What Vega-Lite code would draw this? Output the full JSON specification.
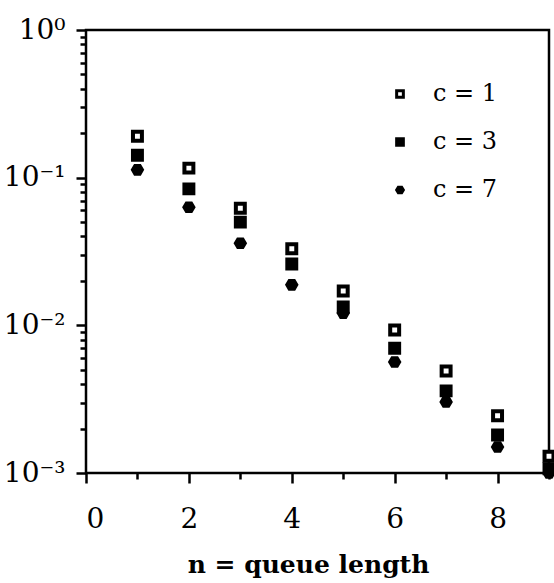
{
  "$schema": "https://vega.github.io/schema/vega-lite/v6.json",
  "width": 463,
  "height": 443,
  "autosize": "none",
  "padding": {"left": 86, "top": 30, "right": 5, "bottom": 110},
  "background": "white",
  "config": {
    "view": {"stroke": "black", "strokeWidth": 2.5},
    "font": "DejaVu Serif",
    "axis": {"domainColor": "black", "domainWidth": 2.5, "tickColor": "black", "tickWidth": 2.5, "grid": false, "labelColor": "black", "titleColor": "black", "labelFont": "DejaVu Serif", "titleFont": "DejaVu Serif"}
  },
  "data": {"values": [
    {"n": 1, "c": "c = 1", "p": 0.191}, {"n": 1, "c": "c = 3", "p": 0.142}, {"n": 1, "c": "c = 7", "p": 0.113},
    {"n": 2, "c": "c = 1", "p": 0.116}, {"n": 2, "c": "c = 3", "p": 0.084}, {"n": 2, "c": "c = 7", "p": 0.063},
    {"n": 3, "c": "c = 1", "p": 0.062}, {"n": 3, "c": "c = 3", "p": 0.050}, {"n": 3, "c": "c = 7", "p": 0.036},
    {"n": 4, "c": "c = 1", "p": 0.033}, {"n": 4, "c": "c = 3", "p": 0.026}, {"n": 4, "c": "c = 7", "p": 0.0188},
    {"n": 5, "c": "c = 1", "p": 0.0171}, {"n": 5, "c": "c = 3", "p": 0.0133}, {"n": 5, "c": "c = 7", "p": 0.0121},
    {"n": 6, "c": "c = 1", "p": 0.0093}, {"n": 6, "c": "c = 3", "p": 0.0070}, {"n": 6, "c": "c = 7", "p": 0.00565},
    {"n": 7, "c": "c = 1", "p": 0.0049}, {"n": 7, "c": "c = 3", "p": 0.0036}, {"n": 7, "c": "c = 7", "p": 0.00303},
    {"n": 8, "c": "c = 1", "p": 0.00244}, {"n": 8, "c": "c = 3", "p": 0.00181}, {"n": 8, "c": "c = 7", "p": 0.0015},
    {"n": 9, "c": "c = 1", "p": 0.0013}, {"n": 9, "c": "c = 3", "p": 0.00107}, {"n": 9, "c": "c = 7", "p": 0.001}
  ]},
  "resolve": {"axis": {"x": "independent", "y": "independent"}},
  "layer": [
    {
      "mark": {"type": "point", "filled": true, "fillOpacity": 1, "strokeOpacity": 1, "strokeWidth": 4, "size": 80, "opacity": 1, "clip": false},
      "encoding": {
        "x": {"field": "n", "type": "quantitative", "scale": {"domain": [0, 9], "nice": false, "zero": false},
          "axis": {"orient": "bottom", "values": [0, 2, 4, 6, 8], "tickSize": 10, "labelFontSize": 28, "labelBaseline": "alphabetic", "labelPadding": 44, "title": "n = queue length", "titleFontSize": 25, "titleFontWeight": "bold", "titleBaseline": "alphabetic", "titleY": 99, "titleX": 222, "domain": false}},
        "y": {"field": "p", "type": "quantitative", "scale": {"type": "log", "domain": [0.001, 1], "nice": false},
          "axis": {"orient": "left", "values": [0.001, 0.01, 0.1, 1], "tickSize": 10, "labelFontSize": 28, "labelPadding": 11, "title": null, "domain": false,
            "labelExpr": "datum.value >= 0.5 ? '10⁰' : datum.value >= 0.05 ? '10⁻¹' : datum.value >= 0.005 ? '10⁻²' : '10⁻³'"}},
        "shape": {"field": "c", "type": "nominal",
          "scale": {"domain": ["c = 1", "c = 3", "c = 7"], "range": ["square", "square", "M -0.5 -0.85 L 0.5 -0.85 L 1 0 L 0.5 0.85 L -0.5 0.85 L -1 0 Z"]},
          "legend": {"orient": "none", "legendX": 302, "legendY": 52, "title": null, "labelFontSize": 24, "labelFont": "DejaVu Serif", "labelColor": "black", "labelOffset": 21, "rowPadding": 24, "symbolSize": 45, "symbolStrokeWidth": 3, "symbolOpacity": 1}},
        "fill": {"field": "c", "type": "nominal",
          "scale": {"domain": ["c = 1", "c = 3", "c = 7"], "range": ["white", "black", "black"]}},
        "stroke": {"field": "c", "type": "nominal",
          "scale": {"domain": ["c = 1", "c = 3", "c = 7"], "range": ["black", "black", "black"]}}
      }
    },
    {
      "mark": {"type": "point", "opacity": 0},
      "encoding": {
        "x": {"field": "n", "type": "quantitative",
          "axis": {"orient": "bottom", "values": [1, 3, 5, 7, 9], "tickSize": 6, "labels": false, "title": null, "domain": false}},
        "y": {"field": "p", "type": "quantitative",
          "axis": {"orient": "left", "values": [0.002, 0.003, 0.004, 0.005, 0.006, 0.007, 0.008, 0.009, 0.02, 0.03, 0.04, 0.05, 0.06, 0.07, 0.08, 0.09, 0.2, 0.3, 0.4, 0.5, 0.6, 0.7, 0.8, 0.9], "tickSize": 6, "labels": false, "title": null, "domain": false}}
      }
    }
  ]
}
